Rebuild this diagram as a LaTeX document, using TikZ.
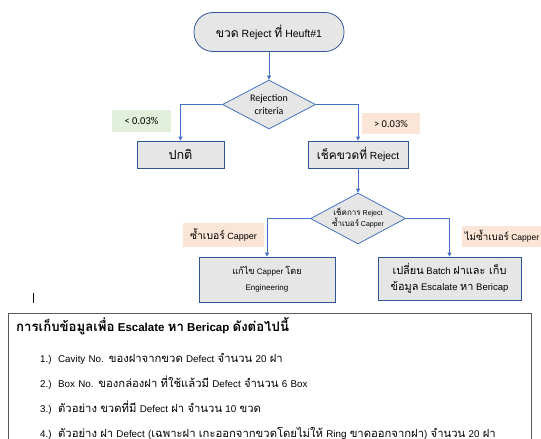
\documentclass[tikz,border=0pt]{standalone}
\usepackage{fontspec}
\setmainfont{Liberation Sans}
\newfontfamily\thaifont[Script=Thai,Scale=1.15]{Loma}
\newfontfamily\calfont{Carlito}
\newcommand{\tx}[1]{{\thaifont #1}}
\usetikzlibrary{shapes.geometric,arrows.meta}

\definecolor{boxblue}{HTML}{2F5597}
\definecolor{lineblue}{HTML}{4472C4}
\definecolor{boxgray}{HTML}{E7E6E6}
\definecolor{lowgreen}{HTML}{E2EFDA}
\definecolor{highpeach}{HTML}{FBE5D6}
\definecolor{frame}{HTML}{595959}

\begin{document}
\begin{tikzpicture}[x=1pt,y=-1pt,
  proc/.style = {draw=boxblue, fill=boxgray, line width=0.8pt, inner sep=0pt, align=center},
  decide/.style = {diamond, draw=lineblue, fill=boxgray, line width=0.8pt, inner sep=0pt, aspect=1.9, align=center},
  tag/.style = {fill=#1, inner sep=0pt, font=\fontsize{9}{10}\selectfont},
  arr/.style = {draw=lineblue, line width=0.8pt, -{Triangle[width=4pt,length=4pt]}}]
\useasboundingbox (0,0) rectangle (541,439);
\clip (0,0) rectangle (541,439);

% flow chart
\node[proc, rounded corners=19pt, minimum width=150pt, minimum height=39pt,
  font=\fontsize{10.5}{12}\selectfont] (start) at (269,32) {\tx{ขวด} Reject \tx{ที่} Heuft\#1};
\node[decide, minimum width=93pt, minimum height=49pt,
  font=\calfont\fontsize{10}{13}\selectfont] (d1) at (269,104.5) {Rejection\\criteria};
\node[proc, minimum width=87pt, minimum height=27pt,
  font=\fontsize{11}{12}\selectfont] (ok) at (180.5,154.5) {\tx{ปกติ}};
\node[proc, minimum width=100pt, minimum height=27pt,
  font=\fontsize{10.3}{12}\selectfont] (chk) at (358,154.5) {\tx{เช็คขวดที่} Reject};
\node[decide, minimum width=95pt, minimum height=51pt,
  font=\fontsize{7}{11}\selectfont] (d2) at (358,218.5) {\tx{เช็คการ} Reject\\\tx{ซ้ำเบอร์} Capper};
\node[proc, minimum width=136pt, minimum height=45pt,
  font=\fontsize{8}{16}\selectfont] (fix) at (267,279.5) {\tx{แก้ไข} Capper \tx{โดย}\\Engineering};
\node[proc, minimum width=143pt, minimum height=43pt,
  font=\fontsize{9.5}{16}\selectfont] (esc) at (449.5,278.5) {\tx{เปลี่ยน} Batch \tx{ฝาและ เก็บ}\\\tx{ข้อมูล} Escalate \tx{หา} Bericap};

% branch tags
\node[tag=lowgreen, minimum width=59pt, minimum height=22pt, font=\calfont\fontsize{10.5}{12}\selectfont] (lo) at (141.5,121) {< 0.03\%};
\node[tag=highpeach, minimum width=58pt, minimum height=21pt, font=\calfont\fontsize{10.5}{12}\selectfont] (hi) at (391,123.5) {> 0.03\%};
\node[tag=highpeach, minimum width=81pt, minimum height=24pt] (same) at (223.5,235) {\tx{ซ้ำเบอร์} Capper};
\node[tag=highpeach, minimum width=80pt, minimum height=21pt, font=\fontsize{8.5}{10}\selectfont] (diff) at (502,236.5) {\tx{ไม่ซ้ำเบอร์} Capper};

\draw[arr] (start) -- (d1);
\draw[arr] (d1.west) -| (ok);
\draw[arr] (d1.east) -| (chk);
\draw[arr] (chk) -- (d2);
\draw[arr] (d2.west) -| (fix);
\draw[arr] (d2.east) -| (esc);

\draw[line width=0.8pt] (33,293) -- (33,303);

% data to collect
\draw[draw=frame, line width=0.9pt, fill=white] (8,313) rectangle (531,450);
\node[anchor=north west, inner xsep=8pt, inner ysep=4pt, align=left, text width=507pt,
  font=\fontsize{9.8}{25}\selectfont] (info) at (8,313) {%
  {\fontsize{11.5}{13}\selectfont\bfseries \tx{การเก็บข้อมูลเพื่อ} Escalate \tx{หา} Bericap \tx{ดังต่อไปนี้}}\\[6pt]
  \hspace*{24pt}1.)\ \ Cavity No. \tx{ของฝาจากขวด} Defect \tx{จำนวน} 20 \tx{ฝา}\\
  \hspace*{24pt}2.)\ \ Box No. \tx{ของกล่องฝา ที่ใช้แล้วมี} Defect \tx{จำนวน} 6 Box\\
  \hspace*{24pt}3.)\ \ \tx{ตัวอย่าง ขวดที่มี} Defect \tx{ฝา จำนวน} 10 \tx{ขวด}\\
  \hspace*{24pt}4.)\ \ \mbox{\tx{ตัวอย่าง ฝา} Defect (\tx{เฉพาะฝา เกะออกจากขวดโดยไม่ให้} Ring \tx{ขาดออกจากฝา}) \tx{จำนวน} 20 \tx{ฝา}}};
\end{tikzpicture}
\end{document}
